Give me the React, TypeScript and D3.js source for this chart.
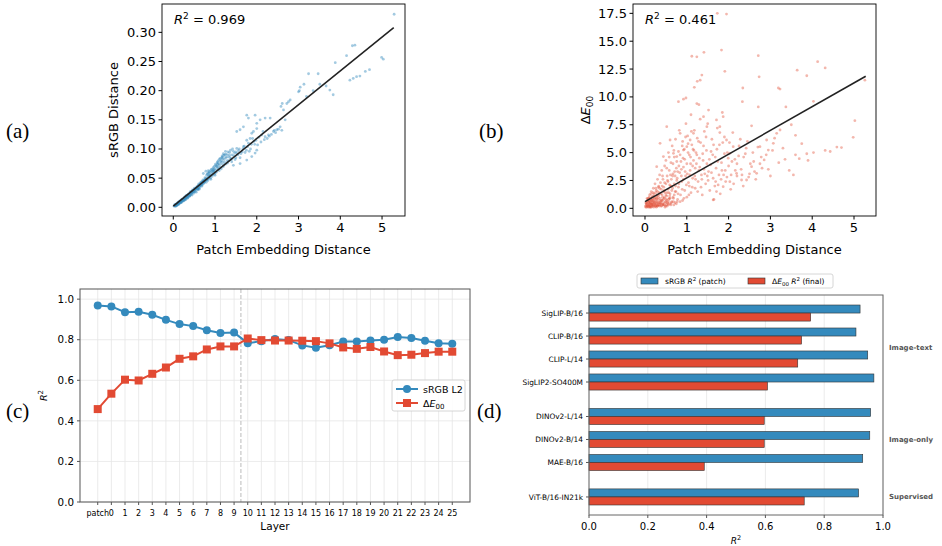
import React from 'react';
import * as d3 from 'd3';

// ---- data ----
const BLUE = '#348ABD';
const RED = '#E24A33';

// (a) patch embedding distance vs sRGB distance
const scatterA: [number, number][] = [
  [0.02, 0.002], [0.04, 0.003], [0.05, 0.002], [0.06, 0.004], [0.08, 0.005], [0.1, 0.005], [0.1, 0.007], [0.12, 0.006],
  [0.13, 0.008], [0.15, 0.008], [0.15, 0.01], [0.17, 0.009], [0.18, 0.011], [0.2, 0.01], [0.2, 0.013], [0.22, 0.012],
  [0.23, 0.014], [0.25, 0.013], [0.26, 0.016], [0.28, 0.015], [0.3, 0.016], [0.3, 0.019], [0.32, 0.018], [0.33, 0.021],
  [0.35, 0.019], [0.36, 0.022], [0.38, 0.021], [0.4, 0.022], [0.4, 0.025], [0.42, 0.024], [0.44, 0.027], [0.45, 0.025],
  [0.47, 0.028], [0.48, 0.026], [0.5, 0.029], [0.5, 0.031], [0.52, 0.03], [0.54, 0.033], [0.55, 0.031], [0.57, 0.034],
  [0.58, 0.036], [0.6, 0.034], [0.6, 0.038], [0.62, 0.037], [0.64, 0.04], [0.65, 0.037], [0.67, 0.041], [0.68, 0.043],
  [0.7, 0.04], [0.7, 0.045], [0.72, 0.044], [0.74, 0.047], [0.75, 0.043], [0.77, 0.049], [0.78, 0.046], [0.8, 0.05],
  [0.8, 0.055], [0.82, 0.048], [0.84, 0.053], [0.85, 0.058], [0.87, 0.052], [0.88, 0.06], [0.9, 0.055], [0.9, 0.063],
  [0.92, 0.058], [0.94, 0.066], [0.95, 0.056], [0.97, 0.062], [0.98, 0.07], [1.0, 0.06], [1.0, 0.066], [1.02, 0.072],
  [1.04, 0.064], [1.05, 0.076], [1.07, 0.068], [1.08, 0.08], [1.1, 0.063], [1.1, 0.072], [1.12, 0.084], [1.14, 0.075],
  [1.15, 0.066], [1.17, 0.088], [1.18, 0.078], [1.2, 0.07], [1.2, 0.092], [1.22, 0.082], [1.25, 0.074], [1.25, 0.096],
  [1.28, 0.086], [1.3, 0.076], [1.3, 0.09], [1.33, 0.08], [1.35, 0.094], [1.38, 0.084], [1.4, 0.078], [1.42, 0.1],
  [1.45, 0.088], [1.48, 0.082], [1.5, 0.095], [1.52, 0.101], [1.55, 0.09], [1.58, 0.1], [1.6, 0.085], [1.65, 0.095],
  [1.7, 0.105], [1.75, 0.098], [1.8, 0.11], [1.85, 0.1], [1.9, 0.118], [1.95, 0.108], [2.05, 0.12], [2.1, 0.112],
  [2.15, 0.13], [2.25, 0.118], [2.35, 0.125], [0.72, 0.058], [0.78, 0.062], [0.84, 0.063], [1.44, 0.072], [1.6, 0.075],
  [1.76, 0.081], [1.88, 0.087], [1.96, 0.093], [2.0, 0.098], [0.55, 0.026], [0.62, 0.031], [0.68, 0.036], [0.45, 0.021],
  [0.35, 0.016], [0.25, 0.011], [0.9, 0.048], [1.0, 0.055],
  [0.03, 0.004], [0.06, 0.002], [0.07, 0.006], [0.09, 0.004], [0.11, 0.008], [0.14, 0.006], [0.16, 0.011], [0.19, 0.008],
  [0.21, 0.014], [0.24, 0.011], [0.27, 0.017], [0.29, 0.013], [0.31, 0.02], [0.34, 0.016], [0.37, 0.023], [0.39, 0.019],
  [0.41, 0.027], [0.43, 0.022], [0.46, 0.03], [0.49, 0.024], [0.51, 0.033], [0.53, 0.027], [0.56, 0.035], [0.59, 0.03],
  [0.61, 0.04], [0.63, 0.033], [0.66, 0.043], [0.69, 0.038], [0.71, 0.047], [0.73, 0.041], [0.76, 0.051], [0.79, 0.043],
  [0.81, 0.057], [0.83, 0.046], [0.86, 0.061], [0.89, 0.05], [0.91, 0.065], [0.93, 0.053], [0.96, 0.068], [0.99, 0.057],
  [1.01, 0.074], [1.03, 0.06], [1.06, 0.078], [1.09, 0.066], [1.11, 0.082], [1.13, 0.069], [1.16, 0.085], [1.19, 0.073],
  [1.21, 0.089], [1.23, 0.077], [1.26, 0.091], [1.29, 0.08], [1.31, 0.095], [1.34, 0.086], [1.37, 0.098], [1.39, 0.082],
  [1.41, 0.09], [1.44, 0.096], [1.47, 0.093], [1.5, 0.085], [1.53, 0.092], [1.56, 0.097], [1.62, 0.092], [1.67, 0.1],
  [1.72, 0.094], [1.78, 0.104], [1.82, 0.096], [1.87, 0.108], [1.93, 0.113], [1.98, 0.115], [2.02, 0.107], [2.12, 0.124],
  [2.18, 0.116], [2.3, 0.122], [2.42, 0.132], [0.05, 0.005], [0.1, 0.004], [0.15, 0.007], [0.2, 0.009], [0.25, 0.015],
  [0.3, 0.014], [0.35, 0.021], [0.4, 0.02], [0.45, 0.027], [0.5, 0.027], [0.55, 0.033], [0.6, 0.032], [0.65, 0.04],
  [0.7, 0.042], [0.75, 0.046], [0.8, 0.047], [0.85, 0.05], [0.95, 0.061], [1.05, 0.07], [1.15, 0.08], [1.25, 0.085],
  [1.35, 0.089], [0.12, 0.009], [0.18, 0.008], [0.28, 0.018], [0.33, 0.018], [0.43, 0.026], [0.48, 0.029], [0.58, 0.033],
  [0.63, 0.036], [0.74, 0.044], [0.86, 0.055], [0.96, 0.064], [1.07, 0.074], [1.18, 0.083],
  [0.08, 0.003], [0.13, 0.005], [0.18, 0.01], [0.23, 0.011], [0.28, 0.013], [0.33, 0.017], [0.38, 0.019], [0.43, 0.024],
  [0.48, 0.027], [0.53, 0.031], [0.58, 0.031], [0.63, 0.038], [0.68, 0.039], [0.73, 0.043], [0.78, 0.048], [0.83, 0.059],
  [0.88, 0.054], [0.93, 0.062], [0.98, 0.064], [1.03, 0.07], [1.08, 0.075], [1.13, 0.078], [1.18, 0.086], [1.23, 0.09],
  [5.29, 0.331], [4.29, 0.277], [4.35, 0.278], [3.88, 0.248],
  [4.15, 0.26], [5.03, 0.254], [4.99, 0.257], [4.7, 0.236], [4.6, 0.233], [4.31, 0.221], [4.39, 0.224], [4.47, 0.225],
  [4.23, 0.218], [3.83, 0.193], [3.75, 0.201], [3.66, 0.208], [3.51, 0.211], [3.47, 0.229], [3.24, 0.229], [3.13, 0.211],
  [3.04, 0.206], [3.02, 0.2], [3.0, 0.198], [3.35, 0.2], [3.19, 0.19], [2.8, 0.184], [2.76, 0.181], [2.72, 0.178],
  [2.61, 0.178], [2.58, 0.173], [2.64, 0.167], [2.68, 0.15], [2.56, 0.138], [2.48, 0.133], [2.4, 0.13], [2.28, 0.124],
  [2.2, 0.121], [2.32, 0.153], [2.2, 0.153], [2.08, 0.15], [2.0, 0.144], [1.96, 0.158], [2.0, 0.135], [1.92, 0.13],
  [1.88, 0.127], [1.76, 0.158], [1.8, 0.153], [1.6, 0.133], [1.68, 0.138], [1.52, 0.13], [1.76, 0.115], [1.84, 0.118],
  [1.68, 0.104], [2.45, 0.128], [2.52, 0.134], [2.6, 0.132],
];
const fitA: [number, number][] = [[0, 0.002], [5.28, 0.308]];

// (b) patch embedding distance vs ΔE00
const scatterB: [number, number][] = [
  [0.02, 0.1], [0.03, 0.3], [0.05, 0.2], [0.05, 0.6], [0.07, 0.4], [0.08, 0.1], [0.08, 0.9], [0.1, 0.3], [0.1, 0.6],
  [0.11, 1.2], [0.12, 0.2], [0.13, 0.5], [0.14, 0.8], [0.15, 0.1], [0.15, 1.5], [0.16, 0.4], [0.17, 1.0], [0.18, 0.2],
  [0.19, 0.7], [0.2, 1.8], [0.2, 0.3], [0.21, 1.3], [0.22, 0.5], [0.23, 0.9], [0.24, 2.2], [0.25, 0.2], [0.26, 0.6],
  [0.27, 1.6], [0.28, 0.4], [0.29, 1.1], [0.3, 2.6], [0.3, 0.2], [0.31, 0.8], [0.32, 1.9], [0.33, 0.5], [0.34, 1.4],
  [0.35, 3.0], [0.35, 0.3], [0.36, 0.9], [0.37, 2.3], [0.38, 0.6], [0.39, 1.7], [0.4, 0.2], [0.4, 3.4], [0.41, 1.2],
  [0.42, 0.4], [0.43, 2.6], [0.44, 0.8], [0.45, 1.9], [0.46, 0.3], [0.47, 3.8], [0.48, 1.4], [0.49, 0.6], [0.5, 2.2],
  [0.5, 4.3], [0.51, 0.3], [0.52, 1.1], [0.53, 2.9], [0.54, 0.5], [0.55, 1.7], [0.56, 5.0], [0.57, 0.8], [0.58, 3.4],
  [0.59, 2.1], [0.6, 0.4], [0.6, 1.3], [0.62, 4.1], [0.63, 2.6], [0.64, 0.6], [0.65, 5.6], [0.66, 1.8], [0.67, 3.1],
  [0.68, 0.9], [0.7, 4.6], [0.7, 2.2], [0.72, 0.5], [0.73, 6.2], [0.74, 1.5], [0.75, 3.6], [0.77, 2.7], [0.78, 0.8],
  [0.8, 5.1], [0.8, 1.9], [0.82, 7.0], [0.83, 3.2], [0.85, 1.2], [0.86, 4.2], [0.88, 2.4], [0.9, 6.0], [0.9, 0.7],
  [0.92, 3.7], [0.94, 5.3], [0.95, 1.6], [0.97, 2.9], [0.98, 7.6], [1.0, 4.0], [1.0, 1.0], [1.02, 6.5], [1.04, 2.3],
  [1.06, 4.8], [1.08, 3.4], [1.1, 8.4], [1.1, 1.4], [1.12, 5.7], [1.14, 2.7], [1.16, 4.3], [1.18, 7.0], [1.2, 1.8],
  [1.2, 3.6], [1.22, 5.0], [1.25, 6.3], [1.27, 2.4], [1.3, 4.5], [1.32, 8.0], [1.35, 3.0], [1.37, 1.2], [1.4, 5.6],
  [1.42, 6.9], [1.45, 2.2], [1.48, 4.0], [1.5, 7.6], [1.52, 3.3], [1.55, 1.6], [1.58, 5.1], [1.6, 6.2], [1.63, 2.7],
  [1.65, 0.8], [1.68, 4.6], [1.7, 3.6], [1.73, 7.2], [1.75, 2.1], [1.78, 5.7], [1.8, 1.3], [1.83, 4.1], [1.85, 8.6],
  [1.88, 3.0], [1.9, 6.4], [1.93, 2.4], [1.97, 5.0], [2.0, 3.8], [2.05, 1.7], [2.1, 6.8], [2.15, 4.4], [2.2, 2.9],
  [2.25, 5.6], [2.3, 3.5], [2.35, 2.0], [2.4, 4.9], [2.45, 6.0], [2.5, 3.1], [2.55, 7.4], [2.6, 4.2], [2.65, 2.6],
  [2.7, 5.5], [2.8, 3.6], [2.9, 4.8], [3.0, 2.9], [3.1, 6.3], [3.2, 4.1], [3.3, 5.4], [3.45, 3.4], [3.5, 7.5],
  [3.6, 4.8], [3.75, 5.8], [3.9, 4.3], [0.04, 0.5], [0.06, 0.8], [0.09, 0.2], [0.11, 0.4], [0.13, 0.1], [0.16, 0.7],
  [0.18, 1.1], [0.21, 0.2], [0.23, 0.4], [0.25, 1.0], [0.27, 0.1], [0.29, 0.6], [0.31, 0.3], [0.33, 1.2], [0.36, 0.5],
  [0.38, 0.2], [0.41, 0.7], [0.44, 0.3], [0.47, 1.0], [0.5, 0.5], [0.53, 0.2], [0.56, 0.6], [0.6, 0.9], [0.12, 0.9],
  [0.19, 1.4], [0.26, 1.8], [0.33, 2.0], [0.17, 0.3], [0.22, 0.8], [0.28, 1.2],
  [0.01, 0.2], [0.02, 0.5], [0.04, 0.1], [0.06, 0.3], [0.07, 0.7], [0.09, 0.5], [0.1, 1.0], [0.12, 0.6], [0.13, 0.3],
  [0.14, 1.3], [0.16, 0.2], [0.17, 0.5], [0.18, 0.9], [0.2, 0.6], [0.21, 0.1], [0.22, 1.1], [0.24, 0.3], [0.25, 1.4],
  [0.26, 0.4], [0.27, 0.8], [0.29, 0.2], [0.3, 1.5], [0.31, 0.5], [0.32, 1.0], [0.34, 0.2], [0.35, 1.8], [0.37, 0.4],
  [0.38, 1.3], [0.4, 0.7], [0.41, 2.0], [0.43, 0.3], [0.44, 1.5], [0.46, 0.9], [0.47, 2.3], [0.49, 0.2], [0.5, 1.2],
  [0.52, 0.7], [0.54, 2.5], [0.55, 0.4], [0.57, 1.4], [0.58, 0.9], [0.61, 2.0], [0.62, 0.3], [0.64, 1.6], [0.66, 2.9],
  [0.68, 0.6], [0.7, 1.2], [0.71, 3.3], [0.73, 2.0], [0.75, 0.4], [0.76, 2.5], [0.79, 1.3], [0.81, 3.8], [0.84, 0.6],
  [0.87, 2.9], [0.89, 1.7], [0.91, 4.5], [0.93, 0.9], [0.96, 3.3], [0.99, 2.1], [1.03, 5.0], [1.05, 1.2], [1.07, 3.0],
  [1.09, 4.0], [1.13, 1.9], [1.15, 5.3], [1.19, 2.9], [1.23, 4.0], [1.26, 1.5], [1.29, 3.4], [1.33, 5.9], [1.36, 2.6],
  [1.39, 4.3], [1.43, 3.1], [1.47, 5.2], [1.51, 2.5], [1.57, 3.9], [1.62, 4.8], [1.67, 2.0], [1.72, 5.3], [1.77, 3.0],
  [1.82, 2.6], [1.86, 5.9], [1.92, 3.4], [1.99, 4.5], [2.06, 3.0], [2.12, 2.2], [2.2, 4.0], [2.28, 6.2], [2.36, 4.6],
  [2.48, 2.8], [2.58, 5.0], [2.75, 4.0], [2.95, 3.5], [3.05, 5.2], [3.35, 4.4], [3.55, 3.0],
  [0.03, 0.4], [0.05, 0.9], [0.07, 0.2], [0.09, 0.7], [0.11, 0.1], [0.14, 0.4], [0.15, 0.7], [0.19, 0.4], [0.23, 0.6],
  [0.26, 0.2], [0.28, 0.9], [0.32, 0.3], [0.36, 0.7], [0.39, 0.4], [0.42, 1.0], [0.45, 0.5], [0.48, 0.1], [0.51, 0.8],
  [0.53, 1.4], [0.56, 0.3], [0.59, 1.1], [0.63, 0.5], [0.67, 1.0], [0.69, 0.3], [0.72, 1.5], [0.77, 0.6],
  [0.42, 2.9], [0.46, 1.6], [0.52, 3.6], [0.55, 2.4], [0.58, 4.6], [0.61, 3.0], [0.64, 2.0], [0.67, 4.0], [0.69, 5.2],
  [0.72, 2.9], [0.76, 4.2], [0.78, 3.3], [0.81, 2.2], [0.84, 4.8], [0.87, 3.5], [0.89, 5.6], [0.92, 2.6], [0.95, 4.4],
  [0.97, 6.4], [1.01, 3.1], [1.03, 5.8], [1.06, 2.0], [1.09, 4.6], [1.11, 6.9], [1.14, 3.8], [1.17, 5.2], [1.21, 2.6],
  [1.24, 4.8], [1.28, 6.0], [1.31, 3.7], [1.34, 1.9], [1.38, 4.9], [1.41, 3.5], [1.46, 6.4], [1.49, 2.9], [1.54, 4.4],
  [1.59, 3.2], [1.64, 5.7], [1.69, 2.4], [1.74, 4.2], [1.79, 6.8], [1.84, 3.4], [1.9, 4.9], [1.96, 2.8], [2.02, 5.9],
  [2.08, 4.2], [2.16, 3.4], [2.24, 4.7], [2.32, 3.0], [2.42, 5.4], [2.52, 4.0], [2.62, 3.3], [2.78, 4.6],
  [1.73, 17.5], [1.95, 17.44], [1.41, 14.0], [1.24, 13.6], [1.12, 13.65], [1.83, 14.2], [2.71, 13.7], [4.13, 13.16],
  [4.31, 12.6], [3.64, 12.4], [3.87, 11.9], [1.91, 12.3], [2.73, 11.8], [1.36, 11.96], [1.32, 11.5], [1.25, 11.4],
  [2.34, 10.8], [3.19, 10.8], [3.23, 10.7], [1.18, 10.86], [0.98, 9.9], [0.92, 9.8], [0.8, 9.57], [1.24, 9.4],
  [1.29, 9.3], [2.33, 9.57], [4.03, 9.6], [3.37, 9.1], [2.71, 9.1], [5.26, 11.5], [5.02, 7.87], [4.98, 6.37],
  [4.59, 5.5], [4.7, 5.45], [4.31, 5.2], [4.43, 5.1], [4.03, 5.0], [3.87, 4.9], [3.69, 4.46], [3.6, 6.55],
  [3.15, 6.73], [3.23, 7.03], [2.91, 6.13], [3.07, 5.83], [2.95, 5.23], [2.75, 5.53], [2.85, 4.34], [2.55, 3.74],
  [2.67, 3.14], [2.43, 2.54], [2.19, 3.14], [2.31, 2.54], [2.03, 2.39], [1.87, 1.94], [1.71, 1.5], [1.63, 0.75],
  [2.03, 4.94], [2.11, 5.53], [1.95, 6.13], [1.79, 7.33], [1.71, 7.93], [1.87, 8.23], [1.48, 7.33], [1.4, 8.23],
  [1.52, 8.82], [1.16, 6.73], [1.08, 6.13], [1.0, 5.53], [0.84, 6.73], [0.92, 5.23], [0.76, 4.64], [0.52, 7.33],
  [0.6, 6.13], [0.68, 4.94], [0.36, 5.83], [0.44, 4.64], [0.28, 3.74],
];
const fitB: [number, number][] = [[0, 0.6], [5.28, 11.85]];

// (c) R² per layer
const layers = ['patch', '0', '1', '2', '3', '4', '5', '6', '7', '8', '9', '10', '11', '12', '13', '14', '15', '16',
  '17', '18', '19', '20', '21', '22', '23', '24', '25'];
const srgbL2 = [0.969, 0.964, 0.936, 0.938, 0.923, 0.898, 0.877, 0.867, 0.847, 0.833, 0.835, 0.783, 0.793, 0.803,
  0.798, 0.772, 0.76, 0.773, 0.791, 0.791, 0.796, 0.8, 0.813, 0.808, 0.795, 0.783, 0.78];
const deltaE = [0.458, 0.534, 0.603, 0.599, 0.632, 0.663, 0.706, 0.718, 0.752, 0.767, 0.767, 0.806, 0.798, 0.796,
  0.796, 0.795, 0.793, 0.782, 0.762, 0.755, 0.764, 0.742, 0.724, 0.726, 0.734, 0.741, 0.741];

// (d) models
const models = ['SigLIP-B/16', 'CLIP-B/16', 'CLIP-L/14', 'SigLIP2-SO400M', 'DINOv2-L/14', 'DINOv2-B/14', 'MAE-B/16', 'ViT-B/16-IN21k'];
const modelPos = [0, 1, 2, 3, 4.5, 5.5, 6.5, 8];
const srgbPatch = [0.922, 0.908, 0.948, 0.969, 0.958, 0.955, 0.931, 0.917];
const deltaEFinal = [0.754, 0.723, 0.71, 0.607, 0.596, 0.596, 0.392, 0.732];
const groups = ['Image-text', 'Image-only', 'Supervised'];
const groupPos = [1.5, 5.5, 8];

const SANS = 'DejaVu Sans, sans-serif';

function R2Text({ x, y, value }: { x: number; y: number; value: string }) {
  return (
    <text x={x} y={y} fontSize={13} fontFamily={SANS} fill="#000">
      <tspan fontStyle="italic">R</tspan>
      <tspan dy={-5} fontSize={9}>2</tspan>
      <tspan dy={5}> = {value}</tspan>
    </text>
  );
}

function Scatter({ box, xDom, yDom, yTicks, yFmt, data, fit, color, r2, yLabel, opacity }: any) {
  const x = d3.scaleLinear().domain(xDom).range([box.l, box.r]);
  const y = d3.scaleLinear().domain(yDom).range([box.b, box.t]);
  const line = d3.line<[number, number]>().x((d) => x(d[0])).y((d) => y(d[1]));
  return (
    <g fontFamily={SANS}>
      {data.map((d: [number, number], i: number) => (
        <circle key={i} cx={x(d[0])} cy={y(d[1])} r={1.4} fill={color} fillOpacity={opacity} />
      ))}
      <path d={line(fit) || ''} stroke="#222" strokeWidth={1.6} fill="none" />
      <rect x={box.l} y={box.t} width={box.r - box.l} height={box.b - box.t} fill="none" stroke="#000" strokeWidth={0.9} />
      {[0, 1, 2, 3, 4, 5].map((t) => (
        <g key={t}>
          <line x1={x(t)} x2={x(t)} y1={box.b} y2={box.b + 3.5} stroke="#000" />
          <text x={x(t)} y={box.b + 16} fontSize={13} textAnchor="middle">{t}</text>
        </g>
      ))}
      {yTicks.map((t: number) => (
        <g key={t}>
          <line x1={box.l - 3.5} x2={box.l} y1={y(t)} y2={y(t)} stroke="#000" />
          <text x={box.l - 6} y={y(t) + 4.5} fontSize={13} textAnchor="end">{yFmt(t)}</text>
        </g>
      ))}
      <text x={(box.l + box.r) / 2} y={box.b + 38} fontSize={13} textAnchor="middle">Patch Embedding Distance</text>
      {yLabel}
      <R2Text x={box.l + 12} y={box.t + 20} value={r2} />
    </g>
  );
}

function LayerChart() {
  const box = { l: 80, r: 470, t: 289, b: 502 };
  const x = d3.scaleLinear().domain([-1.3, 27.3]).range([box.l, box.r]);
  const y = d3.scaleLinear().domain([0, 1.05]).range([box.b, box.t]);
  const idx = layers.map((_, i) => i);
  const line = d3.line<number>().x((_, i) => x(i)).y((d) => y(d));
  const yTicks = [0, 0.2, 0.4, 0.6, 0.8, 1.0];
  return (
    <g fontFamily={SANS}>
      {idx.map((i) => (
        <line key={'gx' + i} x1={x(i)} x2={x(i)} y1={box.t} y2={box.b} stroke="#e6e6e6" strokeWidth={0.8} />
      ))}
      {yTicks.map((t) => (
        <line key={'gy' + t} x1={box.l} x2={box.r} y1={y(t)} y2={y(t)} stroke="#e6e6e6" strokeWidth={0.8} />
      ))}
      <line x1={x(10.5)} x2={x(10.5)} y1={box.t} y2={box.b} stroke="#bbb" strokeWidth={1} strokeDasharray="4,2" />
      <path d={line(srgbL2) || ''} stroke={BLUE} strokeWidth={2} fill="none" />
      {srgbL2.map((d, i) => <circle key={'s' + i} cx={x(i)} cy={y(d)} r={4} fill={BLUE} />)}
      <path d={line(deltaE) || ''} stroke={RED} strokeWidth={2} fill="none" />
      {deltaE.map((d, i) => <rect key={'e' + i} x={x(i) - 4} y={y(d) - 4} width={8} height={8} fill={RED} />)}
      <rect x={box.l} y={box.t} width={box.r - box.l} height={box.b - box.t} fill="none" stroke="#555" strokeWidth={1} />
      {yTicks.map((t) => (
        <g key={t}>
          <line x1={box.l - 3} x2={box.l} y1={y(t)} y2={y(t)} stroke="#555" />
          <text x={box.l - 6} y={y(t) + 3.7} fontSize={10.3} textAnchor="end">{t.toFixed(1)}</text>
        </g>
      ))}
      {layers.map((l, i) => (
        <g key={l}>
          <line x1={x(i)} x2={x(i)} y1={box.b} y2={box.b + 3} stroke="#555" />
          <text x={x(i)} y={box.b + 14} fontSize={8} textAnchor="middle">{l}</text>
        </g>
      ))}
      <text x={(box.l + box.r) / 2} y={box.b + 28} fontSize={10.5} textAnchor="middle">Layer</text>
      <text transform={`translate(${box.l - 33},${(box.t + box.b) / 2}) rotate(-90)`} fontSize={9.5} textAnchor="middle">
        <tspan fontStyle="italic">R</tspan><tspan dy={-4} fontSize={7}>2</tspan>
      </text>
      <g transform="translate(392,380)">
        <rect x={0} y={0} width={73} height={31} rx={2} fill="#fff" fillOpacity={0.85} stroke="#ccc" strokeWidth={0.8} />
        <line x1={4} x2={26} y1={9} y2={9} stroke={BLUE} strokeWidth={2} />
        <circle cx={15} cy={9} r={4} fill={BLUE} />
        <text x={31} y={12.5} fontSize={9.5}>sRGB L2</text>
        <line x1={4} x2={26} y1={23} y2={23} stroke={RED} strokeWidth={2} />
        <rect x={11} y={19} width={8} height={8} fill={RED} />
        <text x={31} y={26.5} fontSize={9.5}>
          Δ<tspan fontStyle="italic">E</tspan><tspan dy={2.5} fontSize={7}>00</tspan>
        </text>
      </g>
    </g>
  );
}

function ModelChart() {
  const box = { l: 589, r: 883, t: 295, b: 515 };
  const x = d3.scaleLinear().domain([0, 1]).range([box.l, box.r]);
  const y = d3.scaleLinear().domain([-0.785, 8.785]).range([box.t, box.b]);
  const bh = y(0.35) - y(0);
  const xTicks = [0, 0.2, 0.4, 0.6, 0.8, 1.0];
  return (
    <g fontFamily={SANS}>
      {xTicks.map((t) => (
        <line key={'g' + t} x1={x(t)} x2={x(t)} y1={box.t} y2={box.b} stroke="#e6e6e6" strokeWidth={0.8} />
      ))}
      {models.map((m, i) => (
        <g key={m}>
          <rect x={x(0)} y={y(modelPos[i]) - bh} width={x(srgbPatch[i]) - x(0)} height={bh} fill={BLUE} stroke="#333" strokeWidth={0.6} />
          <rect x={x(0)} y={y(modelPos[i])} width={x(deltaEFinal[i]) - x(0)} height={bh} fill={RED} stroke="#333" strokeWidth={0.6} />
          <line x1={box.l - 3} x2={box.l} y1={y(modelPos[i])} y2={y(modelPos[i])} stroke="#555" />
          <text x={box.l - 6} y={y(modelPos[i]) + 2.8} fontSize={7.4} textAnchor="end">{m}</text>
        </g>
      ))}
      <rect x={box.l} y={box.t} width={box.r - box.l} height={box.b - box.t} fill="none" stroke="#666" strokeWidth={1} />
      {xTicks.map((t) => (
        <g key={t}>
          <line x1={x(t)} x2={x(t)} y1={box.b} y2={box.b + 3} stroke="#555" />
          <text x={x(t)} y={box.b + 15} fontSize={10} textAnchor="middle">{t.toFixed(1)}</text>
        </g>
      ))}
      <text x={(box.l + box.r) / 2} y={box.b + 29} fontSize={9} textAnchor="middle">
        <tspan fontStyle="italic">R</tspan><tspan dy={-4} fontSize={6.5}>2</tspan>
      </text>
      {groups.map((g, i) => (
        <text key={g} x={box.r + 6} y={y(groupPos[i]) + 2.5} fontSize={7} fontWeight="bold" fill="#555">{g}</text>
      ))}
      <g transform="translate(637,274)">
        <rect x={0} y={0} width={196} height={14} rx={2} fill="#fff" stroke="#ccc" strokeWidth={0.8} />
        <rect x={4} y={4} width={17} height={6} fill={BLUE} stroke="#333" strokeWidth={0.6} />
        <text x={28} y={10} fontSize={7.5}>
          sRGB <tspan fontStyle="italic">R</tspan><tspan dy={-3} fontSize={5.5}>2</tspan><tspan dy={3}> (patch)</tspan>
        </text>
        <rect x={111} y={4} width={17} height={6} fill={RED} stroke="#333" strokeWidth={0.6} />
        <text x={135} y={10} fontSize={7.5}>
          Δ<tspan fontStyle="italic">E</tspan><tspan dy={2} fontSize={5.5}>00</tspan>
          <tspan dy={-2}> </tspan><tspan fontStyle="italic">R</tspan><tspan dy={-3} fontSize={5.5}>2</tspan><tspan dy={3}> (final)</tspan>
        </text>
      </g>
    </g>
  );
}

export default function App() {
  const boxA = { l: 162, r: 405, t: 4, b: 216 };
  const boxB = { l: 633, r: 876, t: 4, b: 216 };
  return (
    <svg width={942} height={546} style={{ position: 'absolute', left: 0, top: 0, background: '#fff' }}>
      <Scatter
        box={boxA}
        xDom={[-0.27, 5.55]}
        yDom={[-0.0149, 0.3486]}
        yTicks={[0, 0.05, 0.1, 0.15, 0.2, 0.25, 0.3]}
        yFmt={(t: number) => t.toFixed(2)}
        data={scatterA}
        fit={fitA}
        color={BLUE}
        opacity={0.45}
        r2="0.969"
        yLabel={
          <text transform={`translate(118,${(boxA.t + boxA.b) / 2}) rotate(-90)`} fontSize={13} textAnchor="middle">sRGB Distance</text>
        }
      />
      <Scatter
        box={boxB}
        xDom={[-0.287, 5.526]}
        yDom={[-0.69, 18.34]}
        yTicks={[0, 2.5, 5, 7.5, 10, 12.5, 15, 17.5]}
        yFmt={(t: number) => t.toFixed(1)}
        data={scatterB}
        fit={fitB}
        color={RED}
        opacity={0.4}
        r2="0.461"
        yLabel={
          <text transform={`translate(590,${(boxB.t + boxB.b) / 2}) rotate(-90)`} fontSize={13} textAnchor="middle">
            Δ<tspan fontStyle="italic">E</tspan><tspan dy={3} fontSize={9}>00</tspan>
          </text>
        }
      />
      <LayerChart />
      <ModelChart />
      <g fontFamily="Liberation Serif, serif" fontSize={21}>
        <text x={6} y={138}>(a)</text>
        <text x={479} y={138}>(b)</text>
        <text x={6} y={418}>(c)</text>
        <text x={477} y={418}>(d)</text>
      </g>
    </svg>
  );
}
